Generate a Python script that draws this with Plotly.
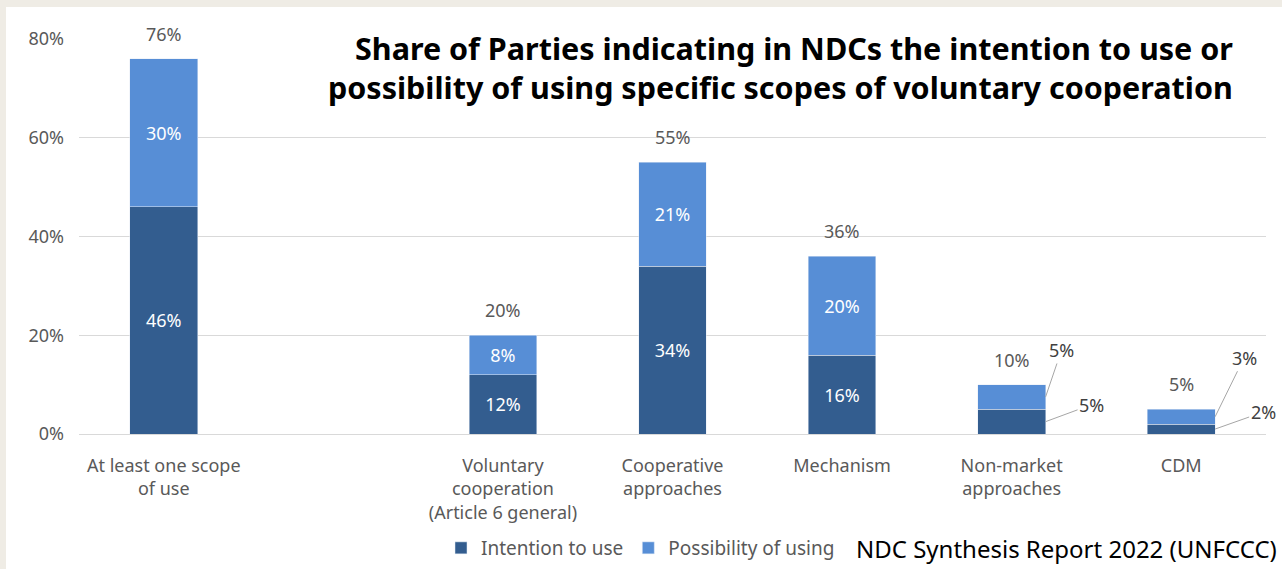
import plotly.graph_objects as go

categories = ["At least one scope<br>of use", " ", "Voluntary<br>cooperation<br>(Article 6 general)",
              "Cooperative<br>approaches", "Mechanism", "Non-market<br>approaches", "CDM"]
bar_categories = [categories[0]] + categories[2:]
intention = [46, 12, 34, 16, 5, 2]
possibility = [30, 8, 21, 20, 5, 3]
totals = [76, 20, 55, 36, 10, 5]
outside_labels = [False, False, False, False, True, True]
y_ticks = [0, 20, 40, 60, 80]
y_tick_text = [f"{v}%" for v in y_ticks]

DARK = "#335d8f"
LIGHT = "#578ed6"
GRAY = "#595959"
BEIGE = "#efece5"
FONT = "Noto Sans"
W, H = 1282, 569
L, R, T, B = 79, 16, 39, 135
BAR_W = 0.4

inside_int = ["" if o else f"{v}%" for v, o in zip(intention, outside_labels)]
inside_pos = ["" if o else f"{v}%" for v, o in zip(possibility, outside_labels)]

fig = go.Figure()
fig.add_trace(go.Bar(x=bar_categories, y=intention, name="Intention to use", marker_color=DARK,
                     text=inside_int, textposition="inside", insidetextanchor="middle",
                     textangle=0, constraintext="none",
                     textfont=dict(color="white", size=18, family=FONT)))
fig.add_trace(go.Bar(x=bar_categories, y=possibility, name="Possibility of using", marker_color=LIGHT,
                     text=inside_pos, textposition="inside", insidetextanchor="middle",
                     textangle=0, constraintext="none",
                     textfont=dict(color="white", size=18, family=FONT)))

ann = []
for c, t in zip(bar_categories, totals):
    ann.append(dict(x=c, y=t, text=f"{t}%", showarrow=False, yanchor="bottom", yshift=11,
                    font=dict(size=18, color=GRAY, family=FONT)))

# leader-line labels for small bars
offsets_pos = {5: (16, -47), 6: (29, -59)}
offsets_int = {5: (46, -17), 6: (48, -17)}
for i, (iv, pv, o) in enumerate(zip(intention, possibility, outside_labels)):
    if not o:
        continue
    idx = categories.index(bar_categories[i])
    ax, ay = offsets_pos[idx]
    ann.append(dict(x=idx + BAR_W / 2, y=iv + pv / 2, text=f"{pv}%", showarrow=True, arrowhead=0,
                    arrowwidth=1, arrowcolor="#a6a6a6", ax=ax, ay=ay,
                    font=dict(size=18, color="#404040", family=FONT)))
    ax, ay = offsets_int[idx]
    ann.append(dict(x=idx + BAR_W / 2, y=iv / 2, text=f"{iv}%", showarrow=True, arrowhead=0,
                    arrowwidth=1, arrowcolor="#a6a6a6", ax=ax, ay=ay,
                    font=dict(size=18, color="#404040", family=FONT)))

pw = W - L - R
ph = H - T - B
def px(x):
    return (x - L) / pw
def py(y):
    return (H - B - y) / ph

ann.append(dict(xref="paper", yref="paper", x=px(1235), y=py(48), xanchor="right", yanchor="middle",
                text="<b>Share of Parties indicating in NDCs the intention to use or</b>", showarrow=False,
                font=dict(size=30.5, color="black", family=FONT)))
ann.append(dict(xref="paper", yref="paper", x=px(1235), y=py(87), xanchor="right", yanchor="middle",
                text="<b>possibility of using specific scopes of voluntary cooperation</b>", showarrow=False,
                font=dict(size=30.5, color="black", family=FONT)))
ann.append(dict(xref="paper", yref="paper", x=px(1279), y=py(548), xanchor="right", yanchor="middle",
                text="NDC Synthesis Report 2022 (UNFCCC)", showarrow=False,
                font=dict(size=24, color="black", family=FONT)))

fig.update_layout(
    width=W, height=H,
    margin=dict(l=L, r=R, t=T, b=B),
    barmode="stack", bargap=1 - BAR_W,
    paper_bgcolor="white", plot_bgcolor="white",
    font=dict(family=FONT, size=16, color=GRAY),
    annotations=ann,
    showlegend=True,
    legend=dict(orientation="h", xref="container", x=(441 - 0) / W, xanchor="left",
                yref="container", y=1 - 548 / H, yanchor="middle",
                font=dict(size=19, color=GRAY, family=FONT), bgcolor="rgba(0,0,0,0)",
                traceorder="normal", itemclick=False),
    shapes=[dict(type="rect", xref="paper", yref="paper", x0=px(-5), x1=px(6), y0=py(H + 5), y1=py(-5),
                 fillcolor=BEIGE, line=dict(width=0), layer="below"),
            dict(type="rect", xref="paper", yref="paper", x0=px(-5), x1=px(W + 5), y0=py(7), y1=py(-5),
                 fillcolor=BEIGE, line=dict(width=0), layer="below")],
    xaxis=dict(type="category", categoryorder="array", categoryarray=categories,
               range=[-0.5, len(categories) - 0.5], showgrid=False, ticks="",
               tickfont=dict(size=18, color=GRAY, family=FONT), ticklabelstandoff=19,
               showline=False, fixedrange=True, automargin=False),
    yaxis=dict(range=[0, 80], tickmode="array", tickvals=y_ticks, ticktext=y_tick_text,
               showgrid=True, gridcolor="#d9d9d9",
               gridwidth=1, zeroline=True, zerolinecolor="#d9d9d9", zerolinewidth=1,
               tickfont=dict(size=18, color=GRAY, family=FONT), ticklabelstandoff=14, fixedrange=True,
               automargin=False),
)

fig.write_html("out.html")
